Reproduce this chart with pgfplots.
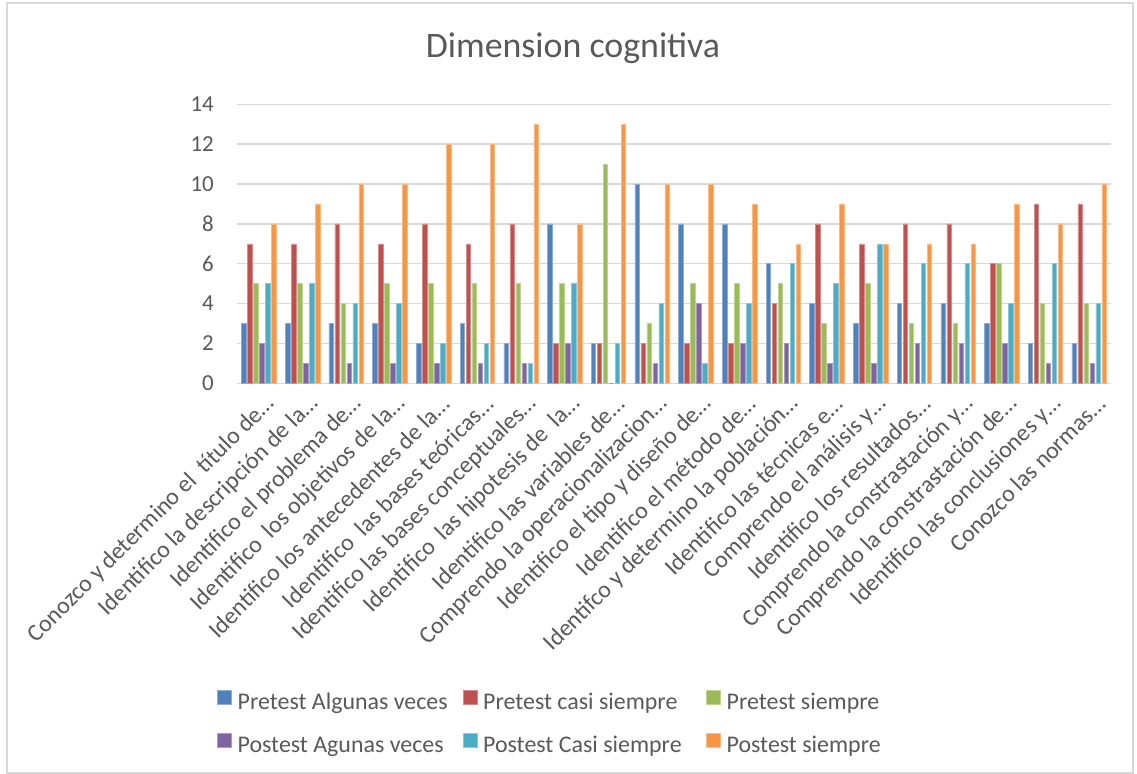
\documentclass[border=0pt]{standalone}
\usepackage{fontspec}
\setmainfont{Carlito}
\usepackage{pgfplots}
\pgfplotsset{compat=1.18}
\usepackage{pgfplotstable}

\definecolor{c1}{HTML}{4F81BD}
\definecolor{c2}{HTML}{C0504D}
\definecolor{c3}{HTML}{9BBB59}
\definecolor{c4}{HTML}{8064A2}
\definecolor{c5}{HTML}{4BACC6}
\definecolor{c6}{HTML}{F79646}
\definecolor{txt}{HTML}{595959}
\definecolor{gridc}{HTML}{D9D9D9}

% columns: pretest (algunas veces, casi siempre, siempre), postest (same)
\pgfplotstableread{
x a b c d e f
0 3 7 5 2 5 8
1 3 7 5 1 5 9
2 3 8 4 1 4 10
3 3 7 5 1 4 10
4 2 8 5 1 2 12
5 3 7 5 1 2 12
6 2 8 5 1 1 13
7 8 2 5 2 5 8
8 2 2 11 0 2 13
9 10 2 3 1 4 10
10 8 2 5 4 1 10
11 8 2 5 2 4 9
12 6 4 5 2 6 7
13 4 8 3 1 5 9
14 3 7 5 1 7 7
15 4 8 3 2 6 7
16 4 8 3 2 6 7
17 3 6 6 2 4 9
18 2 9 4 1 6 8
19 2 9 4 1 4 10
}\datatable

\pgfplotsset{
  sq/.style={fill=#1, draw=#1!65!white, line width=0.5bp,
    legend image code/.code={\fill[##1] (0bp,-2bp) rectangle (14bp,12bp);}},
}

\begin{document}
\begin{tikzpicture}
\useasboundingbox (-237bp,-390.7bp) rectangle (900bp,383.3bp);
\draw[gridc, line width=1.5bp] (-230bp,-389.7bp) rectangle (896bp,380.3bp);
\begin{axis}[
  at={(0,0)}, anchor=south west,
  scale only axis, width=874bp, height=279bp,
  xmin=-0.5, xmax=19.5, ymin=0, ymax=14,
  ytick={0,2,...,14},
  xtick={0,...,19},
  xticklabels={
    Conozco y determino el~~título de…,
    Identifico la descripción de la…,
    Identifico el problema de…,
    Identifico~~los objetivos de la…,
    Identifico los antecedentes de la…,
    Identifico~~las bases teóricas…,
    Identifico las bases conceptuales…,
    Identifico~~las hipotesis de~~la…,
    Identifico las variables de…,
    Comprendo la operacionalizacion…,
    Identifico el tipo y diseño de…,
    Identifico el método de…,
    Identifco y determino la población…,
    Identifico las técnicas e…,
    Comprendo el análisis y…,
    Identifico los resultados…,
    Comprendo la constrastación y…,
    Comprendo la constrastación de…,
    Identifico las conclusiones y…,
    Conozco las normas…},
  ybar=1.5bp, bar width=4.5bp,
  axis line style={draw=none},
  ymajorgrids, grid style={draw=gridc, line width=1.5bp},
  major tick length=0pt,
  tick label style={font=\fontsize{23}{26}\selectfont, text=txt},
  /pgf/number format/assume math mode=true,
  yticklabel style={anchor=east, inner sep=0pt, xshift=-23bp},
  xticklabel style={font=\fontsize{24}{27}\selectfont, anchor=east, inner sep=0pt, xshift=12bp, yshift=-17bp, rotate=45},
  legend columns=3,
  legend cell align=left,
  legend style={draw=none, fill=none, at={(-0.0229,-1.098)}, anchor=north west,
    font=\fontsize{24}{28}\selectfont, text=txt, inner sep=0pt,
    column sep=0pt, row sep=22bp,
    nodes={inner sep=0pt},
    /tikz/every odd column/.append style={column sep=6bp}},
]
\addplot[sq=c1] table[x=x,y=a]{\datatable};
\addlegendentry{\makebox[225bp][l]{Pretest Algunas veces}}
\addplot[sq=c2] table[x=x,y=b]{\datatable};
\addlegendentry{\makebox[223bp][l]{Pretest casi siempre}}
\addplot[sq=c3] table[x=x,y=c]{\datatable};
\addlegendentry{Pretest siempre}
\addplot[sq=c4] table[x=x,y=d]{\datatable};
\addlegendentry{\makebox[225bp][l]{Postest Agunas veces}}
\addplot[sq=c5] table[x=x,y=e]{\datatable};
\addlegendentry{\makebox[223bp][l]{Postest Casi siempre}}
\addplot[sq=c6] table[x=x,y=f]{\datatable};
\addlegendentry{Postest siempre}
\end{axis}
\node[font=\fontsize{36}{40}\selectfont, text=txt] at (336bp,335bp) {Dimension cognitiva};
\end{tikzpicture}
\end{document}
